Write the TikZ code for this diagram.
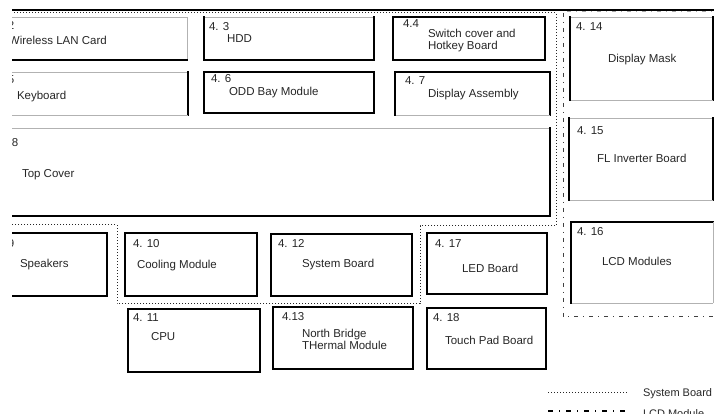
\documentclass[tikz,border=0pt]{standalone}
\usepackage{fontspec}
\setmainfont{Liberation Sans}
\tikzset{
  thk/.style={line width=2pt, black, line cap=rect},
  thn/.style={line width=0.8pt, black!30},
  nil/.style={draw=none},
  boxnode/.style={inner sep=0pt, outer sep=0pt, draw=none},
  txt/.style={anchor=base west, inner sep=0pt, outer sep=0pt, font=\fontsize{11.5}{13}\selectfont, text=black!85},
  sysline/.style={line width=1pt, dash pattern=on 1pt off 2pt, black!85},
  lcdline/.style={line width=1pt, dash pattern=on 4pt off 5pt on 1pt off 5pt, black!75},
  lcdleg/.style={line width=2.5pt, dash pattern=on 5pt off 6pt on 1pt off 6pt, black},
  topline/.style={line width=1.3pt, black}
}
\newcommand\bx[9]{%
  \node[boxnode, minimum width={(#4-#2)*1pt}, minimum height={(#5-#3)*1pt}] (#1) at ({(#2+#4)/2},{(#3+#5)/2}) {};
  \draw[#6] (#1.north west) -- (#1.north east);
  \draw[#7] (#1.north east) -- (#1.south east);
  \draw[#8] (#1.south east) -- (#1.south west);
  \draw[#9] (#1.south west) -- (#1.north west);}
\begin{document}
\begin{tikzpicture}[x=1pt,y=-1pt]
\useasboundingbox (0,0) rectangle (716,414);
\begin{scope}
\clip (12,0) rectangle (716,414);
% outer lines
\draw[topline] (12,10) -- (714,10);
\draw[sysline] (5,13) -- (556,13) -- (556,226) -- (420,226) -- (420,304) -- (117,304) -- (117,225) -- (5,225);
\draw[lcdline] (563,13) -- (563,317) -- (720,317);
\draw[lcdline, black!35] (567,12) -- (720,12);
% boxes
\bx{wl}{5}{17}{187}{60}{thn}{thn}{thk}{nil}
\bx{kb}{5}{72}{188}{115}{thn}{thk}{thn}{nil}
\bx{hdd}{204}{17}{374}{60}{thn}{thk}{thk}{thk}
\bx{odd}{204}{72}{374}{113}{thk}{thk}{thk}{thk}
\bx{sw}{393}{17}{545}{60}{thk}{thk}{thk}{thk}
\bx{da}{395}{72}{550}{115}{thk}{thk}{thn}{thk}
\bx{tc}{5}{128}{550}{216}{thn}{thk}{thk}{nil}
\bx{dm}{570}{17}{713}{100}{thn}{thk}{thn}{thk}
\bx{fl}{569}{118}{713}{200}{thn}{thk}{thn}{thk}
\bx{lcd}{571}{222}{713}{303}{thk}{thn}{thn}{thk}
\bx{sp}{5}{233}{107}{296}{thk}{thk}{thk}{nil}
\bx{cool}{125}{233}{257}{296}{thk}{thk}{thk}{thk}
\bx{sb}{271}{234}{412}{296}{thk}{thk}{thk}{thk}
\bx{led}{427}{233}{547}{294}{thk}{thk}{thk}{thk}
\bx{cpu}{128}{309}{260}{372}{thk}{thk}{thk}{thk}
\bx{nb}{273}{307}{413}{369}{thk}{thk}{thk}{thk}
\bx{tp}{427}{308}{546}{369}{thk}{thk}{thk}{thk}
% texts
\node[txt] (wl-n) at (8,30) {2};
\node[txt] (wl-t) at (9,45) {Wireless LAN Card};
\node[txt] (kb-n) at (8,84) {5};
\node[txt] (kb-t) at (17,100) {Keyboard};
\node[txt] (hdd-n) at (209,31) {4. 3};
\node[txt] (hdd-t) at (227,43) {HDD};
\node[txt] (odd-n) at (211,83) {4. 6};
\node[txt] (odd-t) at (229,96) {ODD Bay Module};
\node[txt] (sw-n) at (403,28) {4.4};
\node[txt] (sw-t1) at (428,38) {Switch cover and};
\node[txt] (sw-t2) at (428,50) {Hotkey Board};
\node[txt] (da-n) at (405,85) {4. 7};
\node[txt] (da-t) at (428,98) {Display Assembly};
\node[txt] (tc-n) at (12,147) {8};
\node[txt] (tc-t) at (22,178) {Top Cover};
\node[txt] (dm-n) at (576,31) {4. 14};
\node[txt] (dm-t) at (608,63) {Display Mask};
\node[txt] (fl-n) at (577,135) {4. 15};
\node[txt] (fl-t) at (597,163) {FL Inverter Board};
\node[txt] (lcd-n) at (577,236) {4. 16};
\node[txt] (lcd-t) at (602,266) {LCD Modules};
\node[txt] (sp-n) at (8,248) {9};
\node[txt] (sp-t) at (20,268) {Speakers};
\node[txt] (cool-n) at (133,248) {4. 10};
\node[txt] (cool-t) at (137,269) {Cooling Module};
\node[txt] (sb-n) at (278,248) {4. 12};
\node[txt] (sb-t) at (302,268) {System Board};
\node[txt] (led-n) at (435,248) {4. 17};
\node[txt] (led-t) at (462,273) {LED Board};
\node[txt] (cpu-n) at (133,322) {4. 11};
\node[txt] (cpu-t) at (151,341) {CPU};
\node[txt] (nb-n) at (282,321) {4.13};
\node[txt] (nb-t1) at (302,338) {North Bridge};
\node[txt] (nb-t2) at (302,350) {THermal Module};
\node[txt] (tp-n) at (433,322) {4. 18};
\node[txt] (tp-t) at (445,345) {Touch Pad Board};
% legend
\coordinate (l1a) at (548,393);
\coordinate (l1b) at (628,393);
\draw[sysline] (l1a) -- (l1b);
\node[txt, font=\fontsize{11}{13}\selectfont] (leg1) at (643,397) {System Board};
\coordinate (l2a) at (548,411);
\coordinate (l2b) at (628,411);
\draw[lcdleg] (l2a) -- (l2b);
\node[txt, font=\fontsize{11}{13}\selectfont] (leg2) at (643,418) {LCD Module};
\end{scope}
\end{tikzpicture}
\end{document}
